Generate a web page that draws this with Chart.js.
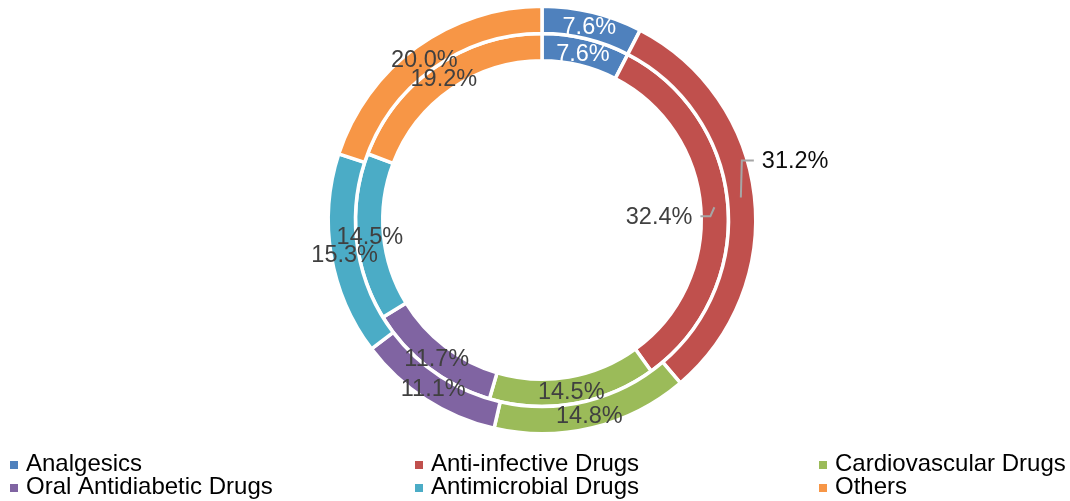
<!DOCTYPE html>
<html>
<head>
<meta charset="utf-8">
<script src="https://cdn.jsdelivr.net/npm/chart.js@4.4.1/dist/chart.umd.min.js"></script>
<style>
  html, body { margin: 0; padding: 0; background: #ffffff; }
  #wrap { width: 1070px; height: 501px; position: relative; }
</style>
</head>
<body>
<div id="wrap"><canvas id="chart"></canvas></div>
<script>
// Therapy-area shares (%), outer ring and inner ring
const categories = ['Analgesics', 'Anti-infective Drugs', 'Cardiovascular Drugs',
                    'Oral Antidiabetic Drugs', 'Antimicrobial Drugs', 'Others'];
const outerShare = [7.6, 31.2, 14.8, 11.1, 15.3, 20.0];
const innerShare = [7.6, 32.4, 14.5, 11.7, 14.5, 19.2];

const palette = ['#4f81bd', '#c0504d', '#9bbb59', '#8064a2', '#4bacc6', '#f79646'];
const labelInk = ['#ffffff', '#404040', '#404040', '#404040', '#404040', '#404040'];
const FONT = '"Liberation Sans", Arial, sans-serif';

// Percentage labels centred on each arc; some slices use a leader line instead
const arcLabels = {
  id: 'arcLabels',
  afterDatasetsDraw(chart, args, opts) {
    const ctx = chart.ctx;
    ctx.save();
    ctx.font = opts.size + 'px ' + FONT;
    chart.data.datasets.forEach((ds, di) => {
      const meta = chart.getDatasetMeta(di);
      meta.data.forEach((arc, i) => {
        const p = arc.getProps(['x', 'y', 'startAngle', 'endAngle', 'innerRadius', 'outerRadius'], true);
        const a = (p.startAngle + p.endAngle) / 2;
        const r = (p.innerRadius + p.outerRadius) / 2;
        let x = p.x + Math.cos(a) * r;
        let y = p.y + Math.sin(a) * r;
        const text = ds.data[i].toFixed(1) + '%';
        const call = opts.callouts[di + '-' + i];
        if (call) {
          ctx.strokeStyle = opts.leaderColor;
          ctx.lineWidth = 2;
          ctx.beginPath();
          ctx.moveTo(x, y);
          call.path.forEach(([dx, dy]) => { x += dx; y += dy; ctx.lineTo(x, y); });
          ctx.stroke();
          ctx.fillStyle = call.color;
          ctx.textAlign = call.align;
          ctx.textBaseline = 'middle';
          ctx.fillText(text, x + (call.align === 'left' ? call.gap : -call.gap), y + 1);
        } else {
          ctx.fillStyle = labelInk[i];
          ctx.textAlign = 'center';
          ctx.textBaseline = 'middle';
          ctx.fillText(text, x, y + 2);
        }
      });
    });
    ctx.restore();
  }
};

// Three-column legend under the rings
const gridLegend = {
  id: 'gridLegend',
  afterDraw(chart, args, opts) {
    const ctx = chart.ctx;
    ctx.save();
    ctx.font = opts.size + 'px ' + FONT;
    ctx.textAlign = 'left';
    ctx.textBaseline = 'middle';
    chart.data.labels.forEach((label, i) => {
      const col = i % opts.columns.length;
      const row = Math.floor(i / opts.columns.length);
      const mx = opts.columns[col];
      const my = opts.rows[row];
      ctx.fillStyle = palette[i];
      ctx.fillRect(mx, my - opts.box / 2 + 1, opts.box, opts.box);
      ctx.fillStyle = '#000000';
      ctx.fillText(label, mx + opts.textGap, my);
    });
    ctx.restore();
  }
};

new Chart(document.getElementById('chart'), {
  type: 'doughnut',
  data: {
    labels: categories,
    datasets: [
      { data: outerShare, backgroundColor: palette, borderColor: '#ffffff', borderWidth: 3.5, hoverOffset: 0 },
      { data: innerShare, backgroundColor: palette, borderColor: '#ffffff', borderWidth: 3.5, hoverOffset: 0 }
    ]
  },
  options: {
    responsive: true,
    maintainAspectRatio: false,
    animation: false,
    events: [],
    cutout: '74.5%',
    layout: { padding: { left: 14, right: 0, top: 4.5, bottom: 65.5 } },
    plugins: {
      legend: { display: false },
      tooltip: { enabled: false },
      arcLabels: {
        size: 23.5,
        leaderColor: '#a6a6a6',
        callouts: {
          '0-1': { path: [[1, -37], [12, 0]], align: 'left', gap: 8, color: '#0d0d0d' },
          '1-1': { path: [[-4, 9], [-10, 0]], align: 'right', gap: 8, color: '#404040' }
        }
      },
      gridLegend: {
        size: 24,
        columns: [10, 415, 819],
        rows: [464, 487],
        box: 8,
        textGap: 16
      }
    }
  },
  plugins: [arcLabels, gridLegend]
});
</script>
</body>
</html>
